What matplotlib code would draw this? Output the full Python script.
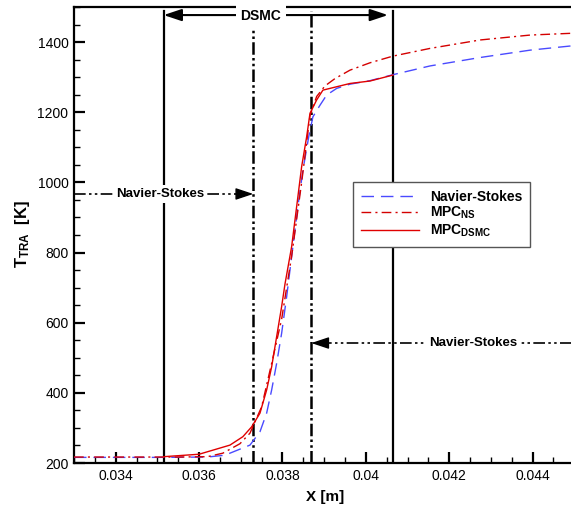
import matplotlib
matplotlib.use("Agg")
import matplotlib.pyplot as plt
from matplotlib.ticker import MultipleLocator, FuncFormatter

plt.rcParams['font.family'] = ['Liberation Sans', 'DejaVu Sans']
plt.rcParams['mathtext.fontset'] = 'custom'
plt.rcParams['mathtext.rm'] = 'Liberation Sans'
plt.rcParams['mathtext.bf'] = 'Liberation Sans:bold'

# Navier-Stokes (blue dashed)
ns_x = [0.0330, 0.0350, 0.0362, 0.0366, 0.03674, 0.03722, 0.03746, 0.03762, 0.03774,
        0.03786, 0.03798, 0.03810, 0.03825, 0.03837, 0.03849, 0.03863, 0.03873,
        0.03890, 0.03906, 0.03930, 0.03962, 0.04010, 0.04065, 0.04154, 0.04274,
        0.04394, 0.04492]
ns_t = [216, 216, 217, 222, 228, 251, 289, 342, 408, 484, 570, 674, 817, 931, 1035,
        1130, 1187, 1220, 1249, 1268, 1280, 1290, 1307, 1332, 1356, 1377, 1389]

# MPC_NS (red dash-dot)
mpcns_x = [0.0330, 0.0355, 0.0362, 0.03657, 0.03698, 0.03722, 0.03750, 0.03774,
           0.03798, 0.03822, 0.03846, 0.03866, 0.03882, 0.03902, 0.03926, 0.03962,
           0.04010, 0.04065, 0.04154, 0.04274, 0.04394, 0.04492]
mpcns_t = [217, 217, 218, 228, 255, 285, 360, 484, 610, 790, 1000, 1190, 1245, 1275,
           1296, 1320, 1341, 1360, 1382, 1406, 1420, 1425]

# MPC_DSMC (red solid)
mpcd_x = [0.03515, 0.0360, 0.03674, 0.03705, 0.03726, 0.03746, 0.03762, 0.03774,
          0.03786, 0.03798, 0.03806, 0.03822, 0.03834, 0.03846, 0.03858, 0.03866,
          0.03882, 0.03897, 0.03914, 0.03962, 0.04010, 0.04065]
mpcd_t = [218, 225, 251, 275, 303, 342, 408, 474, 560, 646, 710, 817, 931, 1045, 1130,
          1197, 1235, 1263, 1268, 1282, 1289, 1306]

# interface positions
dsmc_bounds = [0.03515, 0.04065]
overlap_bounds = [0.03730, 0.03869]

ddot = (0, (5, 1.3, 1, 1.3, 1, 1.3))
ddot_thin = (0, (7, 2, 1.5, 2, 1.5, 2))

fig = plt.figure(figsize=(5.71, 5.11), dpi=100)
ax = fig.add_axes([74 / 571, 48 / 511, 497 / 571, 456 / 511])

for xv in dsmc_bounds:
    ax.plot([xv, xv], [200, 1490], color='black', lw=1.6, zorder=2)
ax.plot([overlap_bounds[0]] * 2, [200, 1437], color='black', lw=1.8, ls=ddot, zorder=2)
ax.plot([overlap_bounds[1]] * 2, [200, 1490], color='black', lw=1.8, ls=ddot, zorder=2)

ax.plot(ns_x, ns_t, color='#4a4aff', lw=1, ls=(0, (9, 5)), label='Navier-Stokes', zorder=4)
ax.plot(mpcns_x, mpcns_t, color='#d40000', lw=1, ls=(0, (7, 3, 1.5, 3)),
        label=r'MPC$_{\mathbf{NS}}$', zorder=4)
ax.plot(mpcd_x, mpcd_t, color='#e00000', lw=1, label=r'MPC$_{\mathbf{DSMC}}$', zorder=5)

# DSMC double arrow
ax.annotate('', xy=(dsmc_bounds[1] - 0.00012, 1477), xytext=(dsmc_bounds[0], 1477),
            arrowprops=dict(arrowstyle='<|-|>,head_length=0.6,head_width=0.2',
                            mutation_scale=18, color='black', lw=1.5,
                            shrinkA=0, shrinkB=0), zorder=3)
ax.text(0.03748, 1474, 'DSMC', ha='center', va='center', fontsize=10, fontweight='bold',
        bbox=dict(facecolor='white', edgecolor='none', pad=3.5), zorder=6)

# left Navier-Stokes arrow
ax.plot([0.033, overlap_bounds[0] - 0.0002], [967, 967], color='black', lw=1.2,
        ls=ddot_thin, zorder=3)
ax.annotate('', xy=(overlap_bounds[0], 967), xytext=(overlap_bounds[0] - 0.0003, 967),
            arrowprops=dict(arrowstyle='-|>,head_length=0.6,head_width=0.2',
                            mutation_scale=18, color='black', lw=1,
                            shrinkA=0, shrinkB=0), zorder=3)
ax.text(0.03506, 967, 'Navier-Stokes', ha='center', va='center', fontsize=9.5,
        fontweight='bold', bbox=dict(facecolor='white', edgecolor='none', pad=2), zorder=6)

# right Navier-Stokes arrow
ax.plot([overlap_bounds[1] + 0.0002, 0.04492], [542, 542], color='black', lw=1.2,
        ls=ddot_thin, zorder=3)
ax.annotate('', xy=(overlap_bounds[1], 542), xytext=(overlap_bounds[1] + 0.0003, 542),
            arrowprops=dict(arrowstyle='-|>,head_length=0.6,head_width=0.2',
                            mutation_scale=18, color='black', lw=1,
                            shrinkA=0, shrinkB=0), zorder=3)
ax.text(0.04257, 542, 'Navier-Stokes', ha='center', va='center', fontsize=9.5,
        fontweight='bold', bbox=dict(facecolor='white', edgecolor='none', pad=2), zorder=6)

ax.set_xlim(0.033, 0.04492)
ax.set_ylim(200, 1500)
ax.xaxis.set_major_locator(MultipleLocator(0.002))
ax.xaxis.set_minor_locator(MultipleLocator(0.0005))
ax.xaxis.set_major_formatter(FuncFormatter(lambda v, p: f'{v:g}'))
ax.yaxis.set_major_locator(MultipleLocator(200))
ax.yaxis.set_minor_locator(MultipleLocator(50))
ax.tick_params(which='both', direction='in', top=False, right=False, labelsize=10)
ax.tick_params(which='major', length=8, width=1.6, pad=4)
ax.tick_params(which='minor', length=4, width=1)
for side in ['left', 'bottom', 'top']:
    ax.spines[side].set_linewidth(1.6)
ax.spines['right'].set_visible(False)

leg = ax.legend(loc='upper left', bbox_to_anchor=((353 - 74) / 497, (463 - 182) / 456),
                borderaxespad=0, handlelength=4.2, handletextpad=0.8,
                labelspacing=0.1, fancybox=False, framealpha=1, borderpad=0.55,
                prop={'weight': 'bold', 'size': 10})
leg.get_frame().set_edgecolor('#555555')
leg.get_frame().set_linewidth(1)
leg.set_zorder(7)

fig.text(325 / 571, 1 - 497 / 511, 'X [m]', ha='center', va='center',
         fontsize=11, fontweight='bold')
fig.text(22 / 571, 1 - 234 / 511, r'$\mathbf{T_{TRA}}$  [K]', ha='center', va='center',
         rotation=90, fontsize=12, fontweight='bold')

fig.savefig('out.png', dpi=100)
